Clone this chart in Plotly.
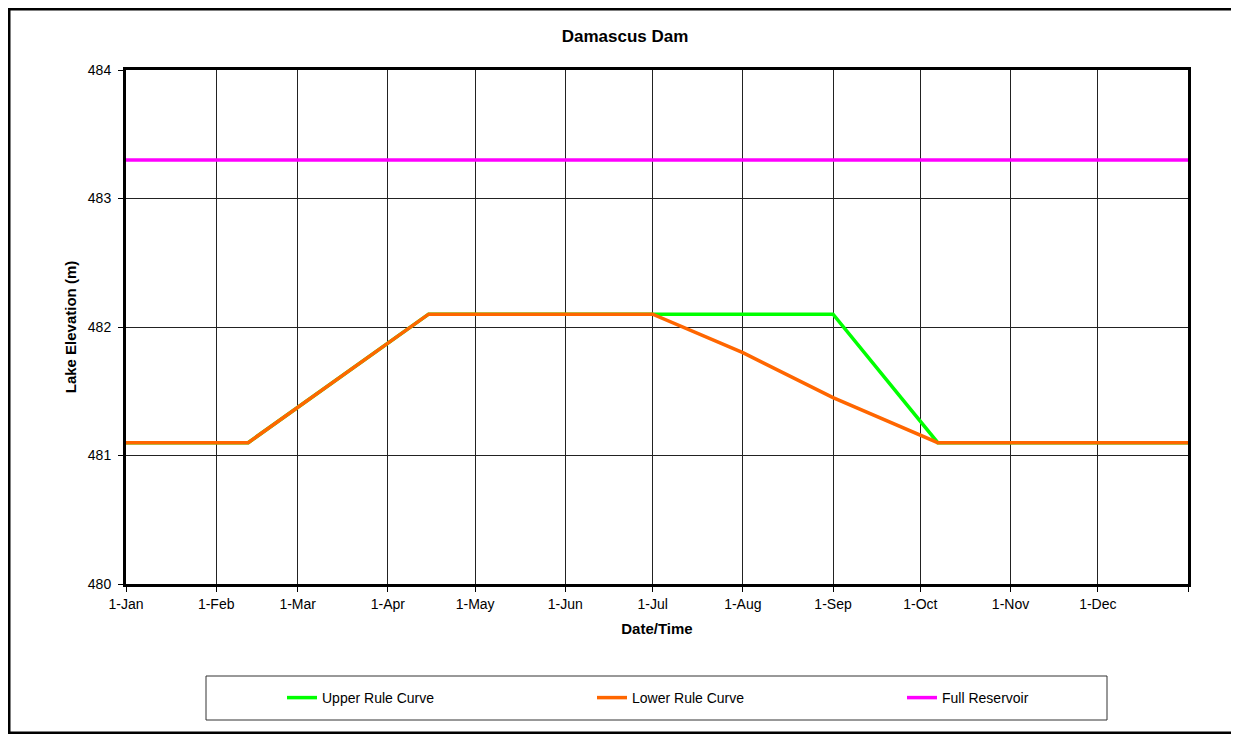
import plotly.graph_objects as go

# ---- data ----
upper_dates = ["2001-01-01", "2001-02-12", "2001-04-15", "2001-07-01", "2001-09-01", "2001-10-07", "2002-01-01"]
upper_vals = [481.1, 481.1, 482.1, 482.1, 482.1, 481.1, 481.1]

lower_dates = ["2001-01-01", "2001-02-12", "2001-04-15", "2001-07-01", "2001-08-01", "2001-09-01", "2001-10-07", "2002-01-01"]
lower_vals = [481.1, 481.1, 482.1, 482.1, 481.8, 481.45, 481.1, 481.1]

full_dates = ["2001-01-01", "2002-01-01"]
full_vals = [483.3, 483.3]

tick_dates = ["2001-01-01", "2001-02-01", "2001-03-01", "2001-04-01", "2001-05-01", "2001-06-01",
              "2001-07-01", "2001-08-01", "2001-09-01", "2001-10-01", "2001-11-01", "2001-12-01", "2002-01-01"]
tick_labels = ["1-Jan", "1-Feb", "1-Mar", "1-Apr", "1-May", "1-Jun",
               "1-Jul", "1-Aug", "1-Sep", "1-Oct", "1-Nov", "1-Dec", ""]

# ---- layout geometry (screen coords; page has an 8px body margin) ----
OFF = 8
W, H = 1239 - OFF, 734 - OFF
L, R, T, B = 126 - OFF, 1188 - OFF, 70 - OFF, 584 - OFF
pw, ph = R - L, B - T


def px(x):
    return (x - OFF - L) / pw


def py(y):
    return (B - (y - OFF)) / ph


FONT = "Liberation Sans, Arial, sans-serif"

fig = go.Figure()
fig.add_trace(go.Scatter(x=upper_dates, y=upper_vals, mode="lines", name="Upper Rule Curve",
                         line=dict(color="#00FF00", width=3.5)))
fig.add_trace(go.Scatter(x=lower_dates, y=lower_vals, mode="lines", name="Lower Rule Curve",
                         line=dict(color="#FF6600", width=3.5)))
fig.add_trace(go.Scatter(x=full_dates, y=full_vals, mode="lines", name="Full Reservoir",
                         line=dict(color="#FF00FF", width=3.5)))

fig.update_layout(
    width=W, height=H,
    margin=dict(l=L, r=W - R, t=T, b=H - B, autoexpand=False),
    paper_bgcolor="white", plot_bgcolor="white",
    font=dict(family=FONT, size=13, color="black"),
    title=dict(text="<b>Damascus Dam</b>", x=(625 - OFF) / W, xref="container", xanchor="center",
               y=1 - (36 - OFF) / H, yref="container", yanchor="middle",
               font=dict(size=17, family=FONT, color="black")),
    showlegend=True,
    legend=dict(orientation="h", x=px(282), y=py(698), xanchor="left", yanchor="middle",
                bgcolor="rgba(0,0,0,0)", borderwidth=0,
                entrywidth=265, entrywidthmode="pixels",
                font=dict(size=14, family=FONT, color="black"), traceorder="normal"),
    xaxis=dict(type="date", range=["2001-01-01", "2002-01-01"],
               tickvals=tick_dates, ticktext=tick_labels,
               showgrid=True, gridcolor="#222222", gridwidth=1,
               showline=True, linecolor="black", linewidth=3, mirror=True,
               ticks="outside", ticklen=5, tickcolor="black", tickwidth=1,
               tickfont=dict(size=14),
               title=dict(text="<b>Date/Time</b>", font=dict(size=15), standoff=13),
               zeroline=False),
    yaxis=dict(range=[480, 484], tickvals=[480, 481, 482, 483, 484],
               showgrid=True, gridcolor="#222222", gridwidth=1,
               showline=True, linecolor="black", linewidth=3, mirror=True,
               ticks="outside", ticklen=5, tickcolor="black", tickwidth=1,
               tickfont=dict(size=14), ticklabelstandoff=4,
               title=dict(text="<b>Lake Elevation (m)</b>", font=dict(size=15), standoff=8),
               zeroline=False),
    shapes=[
        # outer chart border
        dict(type="rect", xref="paper", yref="paper",
             x0=px(9), x1=px(1233), y0=py(733), y1=py(9),
             line=dict(color="black", width=3), fillcolor="rgba(0,0,0,0)", layer="above"),
        # legend box
        dict(type="rect", xref="paper", yref="paper",
             x0=px(206), x1=px(1107), y0=py(720), y1=py(676),
             line=dict(color="#333333", width=1), fillcolor="rgba(0,0,0,0)", layer="above"),
    ],
)

fig.write_html("out.html")
